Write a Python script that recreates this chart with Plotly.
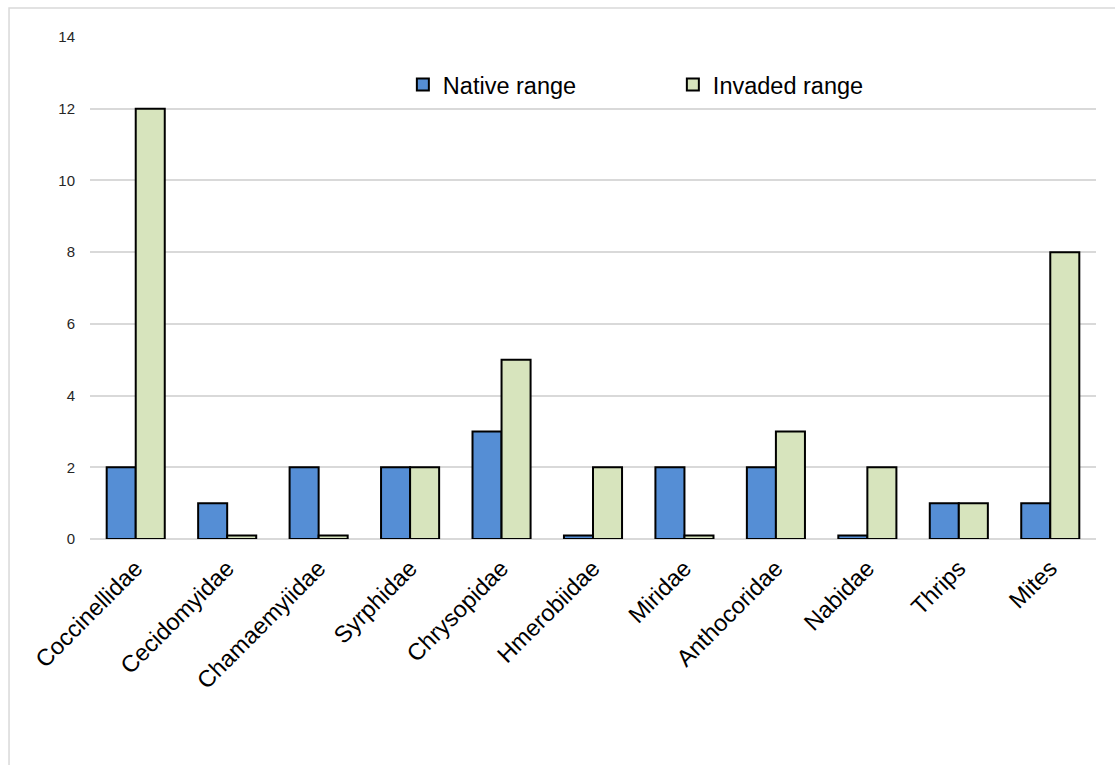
import plotly.graph_objects as go

categories = ["Coccinellidae", "Cecidomyidae", "Chamaemyiidae", "Syrphidae", "Chrysopidae",
              "Hmerobiidae", "Miridae", "Anthocoridae", "Nabidae", "Thrips", "Mites"]
native = [2, 1, 2, 2, 3, 0.1, 2, 2, 0.1, 1, 1]
invaded = [12, 0.1, 0.1, 2, 5, 2, 0.1, 3, 2, 1, 8]
y_ticks = [0, 2, 4, 6, 8, 10, 12, 14]

FONT = "Liberation Sans, Arial, sans-serif"

fig = go.Figure()
fig.add_trace(go.Bar(x=categories, y=native, name="Native range",
                     marker=dict(color="#558ED5", line=dict(color="black", width=2))))
fig.add_trace(go.Bar(x=categories, y=invaded, name="Invaded range",
                     marker=dict(color="#D7E4BD", line=dict(color="black", width=2))))

fig.update_layout(
    width=1115, height=765,
    margin=dict(l=90, r=19, t=37, b=226),
    paper_bgcolor="white", plot_bgcolor="white",
    barmode="group", bargap=0.365, bargroupgap=0,
    font=dict(family=FONT, color="#000000"),
    legend=dict(orientation="h", x=0.311, xanchor="left", y=0.905, yanchor="middle",
                font=dict(size=23.5, family=FONT, color="#000000"),
                entrywidth=225, itemwidth=30, bgcolor="rgba(0,0,0,0)"),
    xaxis=dict(tickangle=-45, tickfont=dict(size=23.5, family=FONT, color="#000000"),
               showline=False, ticks="", showgrid=False, ticklabelstandoff=10),
    yaxis=dict(range=[0, 14], tickvals=y_ticks, tickfont=dict(size=15, family=FONT, color="#262626"),
               showgrid=True, gridcolor="#D9D9D9", gridwidth=1.5,
               zeroline=True, zerolinecolor="#D9D9D9", zerolinewidth=1.5,
               showline=False, ticks="", ticklabelstandoff=14),
    shapes=[dict(type="rect", xref="paper", yref="paper", x0=-0.0805, x1=1.2, y0=-0.6, y1=1.0578,
                 line=dict(color="#D9D9D9", width=1.5), fillcolor="rgba(0,0,0,0)", layer="below")],
)

fig.write_html("out.html")
